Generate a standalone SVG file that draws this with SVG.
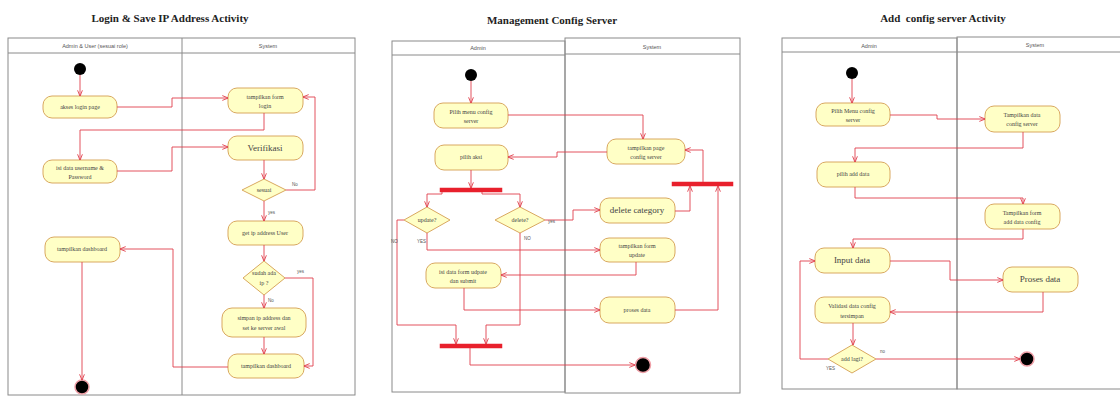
<svg xmlns="http://www.w3.org/2000/svg" width="1120" height="398" viewBox="0 0 1120 398">
<defs>
<marker id="arr" viewBox="0 0 10 10" refX="9.5" refY="5" markerWidth="6" markerHeight="6" markerUnits="userSpaceOnUse" orient="auto">
<path d="M0,1 L10,5 L0,9" fill="none" stroke="#e0404c" stroke-width="1.5"/>
</marker>
</defs>
<style>
.title{font-family:"Liberation Serif",serif;font-weight:bold;font-size:11px;fill:#222;text-anchor:middle;white-space:pre}
.lane{fill:none;stroke:#8a8a8a;stroke-width:1}
.lh{font-family:"Liberation Sans",sans-serif;font-size:5.5px;fill:#555;text-anchor:middle}
.node rect{fill:#ffffc6;stroke:#d9a860;stroke-width:1}
.node polygon{fill:#ffffc6;stroke:#d9a860;stroke-width:1}
.node rect.bar{fill:#e8202c;stroke:#e8202c;stroke-width:0.5}
.t{font-family:"Liberation Serif",serif;font-size:6px;fill:#444;text-anchor:middle}
.tb{font-family:"Liberation Serif",serif;font-size:9px;fill:#444;text-anchor:middle}
.lbl{font-family:"Liberation Sans",sans-serif;font-size:4.5px;fill:#555}
.c{fill:none;stroke:#e0404c;stroke-width:0.9;marker-end:url(#arr)}
.start{fill:#000}
.end{fill:#000;stroke:#f0a0a8;stroke-width:1.5}
</style>
<rect width="1120" height="398" fill="#ffffff"/>

<!-- ===== Diagram 1 ===== -->
<g id="diagram1-frame">
<text class="title" x="170" y="22">Login &amp; Save IP Address Activity</text>
<rect class="lane" x="8" y="38" width="347" height="357"/>
<line class="lane" x1="8" y1="53" x2="355" y2="53"/>
<line class="lane" x1="182" y1="38" x2="182" y2="395"/>
<text class="lh" x="95" y="48">Admin &amp; User (sesuai role)</text>
<text class="lh" x="268" y="48">System</text>
</g>
<g id="d1-start" class="node"><circle class="start" cx="80" cy="69" r="6"/></g>
<g id="d1-akses" class="node"><rect x="43" y="96" width="74" height="22" rx="9"/><text class="t" x="80" y="109">akses login page</text></g>
<g id="d1-form" class="node"><rect x="228" y="88" width="75" height="25" rx="9"/><text class="t" x="265" y="99">tampilkan form</text><text class="t" x="265" y="108">login</text></g>
<g id="d1-verif" class="node"><rect x="228" y="136" width="75" height="24" rx="9"/><text class="tb" x="265" y="151">Verifikasi</text></g>
<g id="d1-isi" class="node"><rect x="43" y="160" width="74" height="23" rx="9"/><text class="t" x="80" y="170">isi data username &amp;</text><text class="t" x="80" y="179">Password</text></g>
<g id="d1-sesuai" class="node"><polygon points="264,179 286,190 264,201 242,190"/><text class="t" x="264" y="192">sesuai</text></g>
<g id="d1-getip" class="node"><rect x="228" y="221" width="75" height="24" rx="9"/><text class="t" x="265" y="235">get ip address User</text></g>
<g id="d1-cekip" class="node"><polygon points="264,261 285,278 264,295 243,278"/><text class="t" x="264" y="275">sudah ada</text><text class="t" x="264" y="285">ip ?</text></g>
<g id="d1-simpan" class="node"><rect x="222" y="308" width="84" height="29" rx="10"/><text class="t" x="264" y="320">simpan ip address dan</text><text class="t" x="264" y="330">set ke server awal</text></g>
<g id="d1-dash-sys" class="node"><rect x="228" y="354" width="76" height="24" rx="9"/><text class="t" x="266" y="368">tampilkan dashboard</text></g>
<g id="d1-dash-user" class="node"><rect x="45" y="237" width="75" height="25" rx="9"/><text class="t" x="82" y="251">tampilkan dashboard</text></g>
<g id="d1-end" class="node"><circle class="end" cx="82" cy="387" r="7"/></g>

<g id="d1-connectors">
<path class="c" d="M80,75 V96"/>
<path class="c" d="M117,107 H172 V98 H228"/>
<path class="c" d="M264,113 V130 H80 V160"/>
<path class="c" d="M117,171 H172 V147 H228"/>
<path class="c" d="M264,160 V179"/>
<path class="c" d="M286,190 H315 V97 H303"/>
<text class="lbl" x="292" y="186">No</text>
<path class="c" d="M264,201 V221"/>
<text class="lbl" x="268" y="214">yes</text>
<path class="c" d="M264,245 V261"/>
<path class="c" d="M285,278 H313 V366 H304"/>
<text class="lbl" x="297" y="273">yes</text>
<path class="c" d="M264,295 V308"/>
<text class="lbl" x="268" y="302">No</text>
<path class="c" d="M264,337 V354"/>
<path class="c" d="M228,367 H173 V249 H120"/>
<path class="c" d="M82,262 V380"/>
</g>

<!-- ===== Diagram 2 ===== -->
<g id="diagram2-frame">
<text class="title" x="552" y="24">Management Config Server</text>
<rect class="lane" x="392" y="41" width="173" height="351"/>
<line class="lane" x1="392" y1="55" x2="565" y2="55"/>
<rect class="lane" x="565" y="38" width="175" height="355"/>
<line class="lane" x1="565" y1="54" x2="740" y2="54"/>
<text class="lh" x="478" y="50">Admin</text>
<text class="lh" x="652" y="49">System</text>
</g>
<g id="d2-start" class="node"><circle class="start" cx="471" cy="75" r="6"/></g>
<g id="d2-pilihmenu" class="node"><rect x="434" y="103" width="74" height="25" rx="9"/><text class="t" x="471" y="114">Pilih menu config</text><text class="t" x="471" y="123">server</text></g>
<g id="d2-page" class="node"><rect x="607" y="139" width="78" height="25" rx="9"/><text class="t" x="646" y="150">tampilkan page</text><text class="t" x="646" y="159">config server</text></g>
<g id="d2-aksi" class="node"><rect x="435" y="145" width="73" height="25" rx="9"/><text class="t" x="471" y="159">pilih aksi</text></g>
<g id="d2-fork1" class="node"><rect class="bar" x="440" y="188" width="62" height="4"/></g>
<g id="d2-update" class="node"><polygon points="427,207 450,220 427,233 404,220"/><text class="t" x="427" y="222">update?</text></g>
<g id="d2-delete" class="node"><polygon points="520,207 545,220 520,233 495,220"/><text class="t" x="520" y="222">delete?</text></g>
<g id="d2-delcat" class="node"><rect x="600" y="198" width="75" height="25" rx="9"/><text class="tb" x="637" y="213">delete category</text></g>
<g id="d2-fork2" class="node"><rect class="bar" x="672" y="182" width="61" height="4"/></g>
<g id="d2-formupd" class="node"><rect x="600" y="238" width="75" height="24" rx="9"/><text class="t" x="637" y="248">tampilkan form</text><text class="t" x="637" y="257">update</text></g>
<g id="d2-isiupd" class="node"><rect x="426" y="263" width="75" height="25" rx="9"/><text class="t" x="463" y="274">isi data form udpate</text><text class="t" x="463" y="283">dan submit</text></g>
<g id="d2-proses" class="node"><rect x="600" y="297" width="75" height="26" rx="9"/><text class="t" x="637" y="312">proses data</text></g>
<g id="d2-join" class="node"><rect class="bar" x="440" y="344" width="62" height="4"/></g>
<g id="d2-end" class="node"><circle class="end" cx="643" cy="365" r="7.5"/></g>

<g id="d2-connectors">
<path class="c" d="M471,81 V103"/>
<path class="c" d="M508,115 H643 V139"/>
<path class="c" d="M607,152 H557 V157 H508"/>
<path class="c" d="M471,170 V188"/>
<path class="c" d="M442,192 V194 H427 V207"/>
<path class="c" d="M482,192 V194 H520 V207"/>
<path class="c" d="M545,220 H573 V210 H600"/>
<text class="lbl" x="548" y="223">yes</text>
<path class="c" d="M675,211 H690 V186"/>
<path class="c" d="M703,182 V150 H685"/>
<path class="c" d="M675,310 H718 V186"/>
<path class="c" d="M427,233 V250 H600"/>
<text class="lbl" x="417" y="243">YES</text>
<path class="c" d="M404,220 H397 V325 H456 V344"/>
<text class="lbl" x="391" y="243">NO</text>
<path class="c" d="M636,262 V275 H501"/>
<path class="c" d="M464,288 V310 H600"/>
<path class="c" d="M520,233 V325 H486 V344"/>
<text class="lbl" x="524" y="240">NO</text>
<path class="c" d="M470,348 V365 H635"/>
</g>

<!-- ===== Diagram 3 ===== -->
<g id="diagram3-frame">
<text class="title" x="943" y="22">Add  config server Activity</text>
<rect class="lane" x="782" y="38" width="175" height="351"/>
<line class="lane" x1="782" y1="52" x2="957" y2="52"/>
<rect class="lane" x="957" y="37" width="170" height="352"/>
<line class="lane" x1="957" y1="52" x2="1120" y2="52"/>
<text class="lh" x="869" y="48">Admin</text>
<text class="lh" x="1035" y="47">System</text>
</g>
<g id="d3-start" class="node"><circle class="start" cx="852" cy="73" r="6"/></g>
<g id="d3-pilihmenu" class="node"><rect x="816" y="103" width="74" height="23" rx="9"/><text class="t" x="853" y="113">Pilih Menu config</text><text class="t" x="853" y="122">server</text></g>
<g id="d3-tampildata" class="node"><rect x="985" y="106" width="75" height="26" rx="9"/><text class="t" x="1022" y="117">Tampilkan data</text><text class="t" x="1022" y="126">config server</text></g>
<g id="d3-pilihadd" class="node"><rect x="817" y="162" width="73" height="25" rx="9"/><text class="t" x="853" y="176">pilih add data</text></g>
<g id="d3-formadd" class="node"><rect x="985" y="204" width="75" height="25" rx="9"/><text class="t" x="1022" y="215">Tampilkan form</text><text class="t" x="1022" y="224">add data config</text></g>
<g id="d3-input" class="node"><rect x="815" y="248" width="75" height="25" rx="9"/><text class="tb" x="852" y="263">Input data</text></g>
<g id="d3-proses" class="node"><rect x="1003" y="267" width="75" height="25" rx="9"/><text class="tb" x="1040" y="282">Proses data</text></g>
<g id="d3-validasi" class="node"><rect x="815" y="297" width="75" height="26" rx="9"/><text class="t" x="852" y="308">Validasi data config</text><text class="t" x="852" y="318">tersimpan</text></g>
<g id="d3-lagi" class="node"><polygon points="852,345 876,359 852,373 828,359"/><text class="t" x="852" y="361">add lagi?</text></g>
<g id="d3-end" class="node"><circle class="end" cx="1027" cy="359" r="7"/></g>

<g id="d3-connectors">
<path class="c" d="M852,79 V103"/>
<path class="c" d="M890,115 H937 V119 H985"/>
<path class="c" d="M1023,132 V148 H855 V162"/>
<path class="c" d="M855,187 V198 H1023 V204"/>
<path class="c" d="M1023,229 V239 H853 V248"/>
<path class="c" d="M890,261 H950 V280 H1003"/>
<path class="c" d="M1043,292 V312 H890"/>
<path class="c" d="M853,323 V345"/>
<path class="c" d="M876,359 H1020"/>
<text class="lbl" x="880" y="353">no</text>
<path class="c" d="M828,359 H800 V261 H815"/>
<text class="lbl" x="826" y="370">YES</text>
</g>
</svg>
